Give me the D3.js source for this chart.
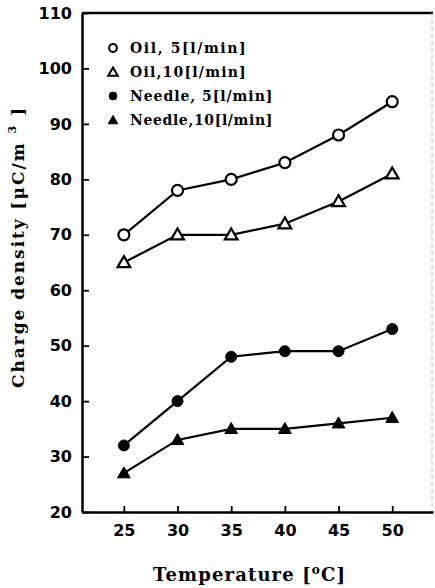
<!DOCTYPE html>
<html>
<head>
<meta charset="utf-8">
<script src="https://cdn.jsdelivr.net/npm/d3@7"></script>
<style>
    body { margin: 0; background: #fff; }
    .tick text { font-family: "DejaVu Sans", sans-serif; font-weight: bold; font-size: 16px; fill: #000; }
    .title { font-family: "DejaVu Serif", serif; font-weight: bold; fill: #000; }
</style>
</head>
<body>
<script>
"use strict";

// temperature [°C]
var temps = [25, 30, 35, 40, 45, 50];

// charge density [uC/m^3]
var oil5 = [70, 78, 80, 83, 88, 94];
var oil10 = [65, 70, 70, 72, 76, 81];
var needle5 = [32, 40, 48, 49, 49, 53];
var needle10 = [27, 33, 35, 35, 36, 37];

var xTicks = [25, 30, 35, 40, 45, 50];
var yTicks = [20, 30, 40, 50, 60, 70, 80, 90, 100, 110];

var seriesNames = ["Oil, 5[l/min]", "Oil,10[l/min]", "Needle, 5[l/min]", "Needle,10[l/min]"];

function init() {
    var w = 435;
    var h = 588;

    var series = [
        { name: seriesNames[0], values: oil5, shape: "circle", filled: false },
        { name: seriesNames[1], values: oil10, shape: "triangle", filled: false },
        { name: seriesNames[2], values: needle5, shape: "circle", filled: true },
        { name: seriesNames[3], values: needle10, shape: "triangle", filled: true }
    ];

    var xScale = d3.scaleLinear()
        .domain([21.1, 53.8])
        .range([82, 433]);

    var yScale = d3.scaleLinear()
        .domain([20, 110])
        .range([512, 13]);

    var svg = d3.select("body")
        .append("svg")
        .attr("width", w)
        .attr("height", h);

    //Frame: top line and faint right edge
    svg.append("line")
        .attr("x1", xScale.range()[0]).attr("x2", xScale.range()[1])
        .attr("y1", yScale.range()[1]).attr("y2", yScale.range()[1])
        .attr("stroke", "#000").attr("stroke-width", 2.5);

    svg.append("line")
        .attr("x1", xScale.range()[1] - 1).attr("x2", xScale.range()[1] - 1)
        .attr("y1", yScale.range()[1]).attr("y2", yScale.range()[0])
        .attr("stroke", "#bbb").attr("stroke-width", 1)
        .attr("stroke-dasharray", "4,3");

    //Axes, ticks pointing inward
    svg.append("g")
        .attr("transform", "translate(0," + yScale.range()[0] + ")")
        .call(d3.axisBottom(xScale)
            .tickValues(xTicks)
            .tickSizeInner(-6)
            .tickSizeOuter(0)
            .tickPadding(13));

    svg.append("g")
        .attr("transform", "translate(" + xScale.range()[0] + ",0)")
        .call(d3.axisLeft(yScale)
            .tickValues(yTicks)
            .tickSizeInner(-7)
            .tickSizeOuter(0)
            .tickPadding(10));

    svg.selectAll(".domain").attr("stroke", "#000").attr("stroke-width", 2.5);
    svg.selectAll(".tick line").attr("stroke", "#000").attr("stroke-width", 1.8);

    //Axis titles
    var xTitle = svg.append("text")
        .attr("class", "title")
        .attr("x", 153)
        .attr("y", 581)
        .attr("textLength", 192)
        .attr("lengthAdjust", "spacing")
        .style("font-size", "18px");
    xTitle.append("tspan").text("Temperature [");
    xTitle.append("tspan").attr("dy", -7).style("font-size", "12px").text("o");
    xTitle.append("tspan").attr("dy", 7).text("C]");

    var yTitle = svg.append("text")
        .attr("class", "title")
        .attr("transform", "translate(24,388) rotate(-90)")
        .attr("textLength", 280)
        .attr("lengthAdjust", "spacing")
        .style("font-size", "17px");
    yTitle.append("tspan").text("Charge density [\u03bcC/m ");
    yTitle.append("tspan").attr("dy", -8).style("font-size", "11px").text("3");
    yTitle.append("tspan").attr("dy", 8).text(" ]");

    //Lines
    var line = d3.line()
        .x(function (d, i) { return xScale(temps[i]); })
        .y(function (d) { return yScale(d); });

    svg.selectAll("path.series")
        .data(series)
        .enter()
        .append("path")
        .attr("class", "series")
        .attr("d", function (d) { return line(d.values); })
        .attr("fill", "none")
        .attr("stroke", "#000")
        .attr("stroke-width", 2.2);

    //Markers
    var circleSym = d3.symbol().type(d3.symbolCircle).size(95);
    var triSym = d3.symbol().type(d3.symbolTriangle).size(70);

    series.forEach(function (s) {
        svg.selectAll(null)
            .data(s.values)
            .enter()
            .append("path")
            .attr("transform", function (d, i) {
                var dy = s.shape === "triangle" ? 1 : 0;
                return "translate(" + xScale(temps[i]) + "," + (yScale(d) + dy) + ")";
            })
            .attr("d", s.shape === "circle" ? circleSym() : triSym())
            .attr("fill", s.filled ? "#000" : "#fff")
            .attr("stroke", "#000")
            .attr("stroke-width", s.filled ? 1 : 2.2);
    });

    //Legend
    var legendCircle = d3.symbol().type(d3.symbolCircle).size(48);
    var legendTri = d3.symbol().type(d3.symbolTriangle).size(40);

    var rows = svg.append("g").selectAll("g")
        .data(series)
        .enter()
        .append("g")
        .attr("transform", function (d, i) { return "translate(113," + (48 + i * 24) + ")"; });

    rows.append("path")
        .attr("d", function (d) { return d.shape === "circle" ? legendCircle() : legendTri(); })
        .attr("transform", function (d) { return d.shape === "triangle" ? "translate(0,1)" : null; })
        .attr("fill", function (d) { return d.filled ? "#000" : "#fff"; })
        .attr("stroke", "#000")
        .attr("stroke-width", function (d) { return d.filled ? 1 : 2; });

    rows.append("text")
        .attr("class", "title")
        .attr("x", 17)
        .attr("y", 5)
        .attr("textLength", function (d) { return d.name.length * 8.9; })
        .attr("lengthAdjust", "spacing")
        .style("font-size", "14px")
        .text(function (d) { return d.name; });
}

window.onload = init;
</script>
</body>
</html>
